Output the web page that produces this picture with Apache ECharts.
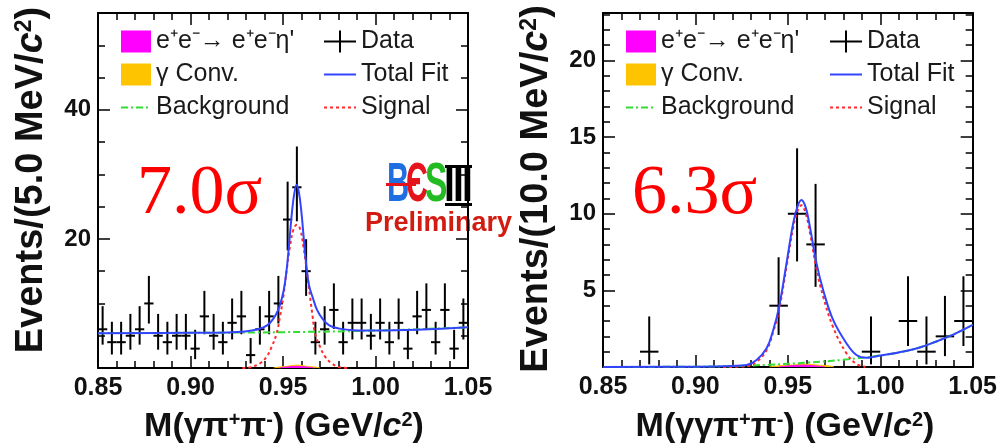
<!DOCTYPE html>
<html><head><meta charset="utf-8">
<script src="https://cdn.jsdelivr.net/npm/echarts@6/dist/echarts.min.js"></script>
<style>html,body{margin:0;padding:0;background:#fff}#c{width:1000px;height:448px}</style>
</head><body><div id="c"></div>
<script>
// ---------- data ----------
const xTickLabels = ['0.85','0.90','0.95','1.00','1.05'];
// Left panel: M(gamma pi+ pi-), 5 MeV bins
const binHalfL = 0.0025;
const xDataL = [0.8525,0.8575,0.8625,0.8675,0.8725,0.8775,0.8825,0.8875,0.8925,0.8975,
                0.9025,0.9075,0.9125,0.9175,0.9225,0.9275,0.9325,0.9375,0.9425,0.9475,
                0.9525,0.9575,0.9625,0.9675,0.9725,0.9775,0.9825,0.9875,0.9925,0.9975,
                1.0025,1.0075,1.0125,1.0175,1.0225,1.0275,1.0325,1.0375,1.0425,1.0475];
const yDataL = [6,4,4,5,6,10,5,4,5,5,3,8,5,4,7,8,2,6,8,10,23,28,15,4,6,9,4,7,7,5,7,4,7,3,8,9,4,9,3,7];
const errLoL = [3.62,2.09,2.09,2.84,3.62,6.89,2.84,2.09,2.84,2.84,1.37,5.23,2.84,2.09,4.42,5.23,0.71,3.62,5.23,6.89,
                18.22,22.73,11.17,2.09,3.62,6.06,2.09,4.42,4.42,2.84,4.42,2.09,4.42,1.37,5.23,6.06,2.09,6.06,1.37,4.42];
const errHiL = [9.58,7.16,7.16,8.38,9.58,14.27,8.38,7.16,8.38,8.38,5.92,11.95,8.38,7.16,10.77,11.95,4.64,9.58,11.95,14.27,
                28.87,34.32,19.96,7.16,9.58,13.11,7.16,10.77,10.77,8.38,10.77,7.16,10.77,5.92,11.95,13.11,7.16,13.11,5.92,10.77];
const bkgL = [[0.85,5.4],[0.90,5.45],[0.95,5.55],[1.00,5.8],[1.05,6.3]];
const totalL = [[0.85,5.4],[0.90,5.45],[0.92,5.5],[0.9294,5.65],[0.9364,6.0],[0.9414,6.6],[0.9449,7.7],[0.9474,9.0],
                [0.9494,10.8],[0.9509,12.9],[0.9524,16.4],[0.9537,20.5],[0.9549,24.3],[0.9562,27.2],[0.9574,28.4],
                [0.9586,27.2],[0.9599,24.3],[0.9611,20.5],[0.9624,16.4],[0.9640,12.9],[0.9662,10.8],[0.9684,9.0],
                [0.9712,7.7],[0.9750,6.6],[0.9805,6.1],[0.988,5.85],[1.00,5.8],[1.05,6.3]];
const signalL = [[0.928,0],[0.9322,0.1],[0.9376,0.73],[0.9412,1.76],[0.9439,3.3],[0.9466,5.4],[0.9484,8.0],[0.9502,11.1],
                 [0.952,15.2],[0.9538,18.9],[0.9557,21.5],[0.9575,22.2],[0.9593,21.5],[0.961,18.9],[0.9628,15.2],
                 [0.9646,11.1],[0.966,8.0],[0.9673,5.4],[0.970,3.3],[0.9727,1.76],[0.9763,0.73],[0.9808,0.1],[0.986,0]];
const convL = [[0.945,0],[0.950,0.2],[0.9575,0.45],[0.965,0.2],[0.970,0]];
const eeL = [[0.948,0],[0.9575,0.25],[0.967,0]];

// Right panel: M(gamma gamma pi+ pi-), 10 MeV bins
const binHalfR = 0.005;
const xDataR = [0.875,0.945,0.955,0.965,0.995,1.015,1.025,1.035,1.045];
const yDataR = [1,4,10,8,1,3,1,2,3];
const errLoR = [0.17,2.09,6.89,5.23,0.17,1.37,0.17,0.71,1.37];
const errHiR = [3.30,7.16,14.27,11.95,3.30,5.92,3.30,4.64,5.92];
const bkgR = [[0.85,0],[0.90,0.02],[0.92,0.06],[0.94,0.15],[0.96,0.28],[0.98,0.47],[1.00,0.75],[1.01,0.95],
              [1.02,1.22],[1.03,1.65],[1.04,2.15],[1.05,2.75]];
const totalR = [[0.85,0],[0.90,0.02],[0.92,0.07],[0.9277,0.13],[0.9331,0.46],[0.9385,1.22],[0.9421,2.42],[0.9453,3.94],
                [0.9493,6.78],[0.9529,9.39],[0.9553,10.5],[0.9574,10.9],[0.9597,10.4],[0.9619,9.17],[0.9655,6.78],
                [0.9691,5.03],[0.9745,3.07],[0.9817,1.55],[0.9871,0.78],[0.9925,0.6],[0.9961,0.66],[1.00,0.75],
                [1.01,0.95],[1.02,1.22],[1.03,1.65],[1.04,2.15],[1.05,2.75]];
const signalR = [[0.915,0],[0.9277,0.05],[0.9331,0.35],[0.9385,1.1],[0.9421,2.3],[0.9453,3.75],[0.9493,6.55],[0.9529,9.1],
                 [0.9553,10.2],[0.9574,10.55],[0.9597,10.0],[0.9619,8.8],[0.9655,6.4],[0.9691,4.6],[0.9745,2.6],
                 [0.9817,0.9],[0.9871,0.2],[0.992,0]];
const convR = [[0.94,0],[0.95,0.12],[0.96,0.18],[0.97,0.1],[0.975,0]];
const eeR = [[0.945,0],[0.958,0.12],[0.97,0]];

const yLabelsL = [20,40];
const yLabelsR = [5,10,15,20];

// ---------- style ----------
const F = "'Liberation Sans', Arial, Helvetica, sans-serif";
const N_EE = "e\u207Ae\u207B\u2192 e\u207Ae\u207B\u03B7'";
const N_CONV = "\u03B3 Conv.";
const C_EE = '#ff00ff', C_CONV = '#ffc400', C_BKG = '#33dd33', C_TOT = '#3344ff', C_SIG = '#ff2a2a';

function xAxes(grid) {
  const common = {
    gridIndex: grid, type: 'value', min: 0.85, max: 1.05, interval: 0.05,
    axisLine: {show: true, onZero: false, lineStyle: {color: '#000', width: 2}},
    axisTick: {show: true, inside: true, length: 12, lineStyle: {color: '#000', width: 1.5}},
    minorTick: {show: true, splitNumber: 5, length: 7, lineStyle: {color: '#000', width: 1.5}},
    splitLine: {show: false}
  };
  return [
    Object.assign({}, common, {position: 'bottom',
      axisLabel: {show: true, margin: 8, fontSize: 25, fontWeight: 'bold', fontFamily: F, color: '#111',
        formatter: v => { const s = v.toFixed(2); return xTickLabels.indexOf(s) >= 0 ? s : ''; }}}),
    Object.assign({}, common, {position: 'top', axisLabel: {show: false}})
  ];
}
function yAxes(grid, max, interval, minorSplit, labels) {
  const common = {
    gridIndex: grid, type: 'value', min: 0, max: max, interval: interval,
    axisLine: {show: true, onZero: false, lineStyle: {color: '#000', width: 2}},
    axisTick: {show: true, inside: true, length: 12, lineStyle: {color: '#000', width: 1.5}},
    minorTick: {show: true, splitNumber: minorSplit, length: 7, lineStyle: {color: '#000', width: 1.5}},
    splitLine: {show: false}
  };
  return [
    Object.assign({}, common, {position: 'left',
      axisLabel: {show: true, margin: 7, fontSize: 24, fontWeight: 'bold', fontFamily: F, color: '#111',
        formatter: v => labels.indexOf(Math.round(v * 1000) / 1000) >= 0 ? String(v) : ''}}),
    Object.assign({}, common, {position: 'right', axisLabel: {show: false}})
  ];
}

function dataSeries(xs, ys, lo, hi, half, xi, yi) {
  return {
    type: 'custom', name: 'Data', xAxisIndex: xi, yAxisIndex: yi, z: 2,
    itemStyle: {color: '#000'},
    data: xs.map((x, i) => [x, ys[i], lo[i], hi[i]]),
    renderItem: function (params, api) {
      const x = api.value(0), y = api.value(1);
      const c = api.coord([x, y]);
      const l = api.coord([x - half, y]);
      const r = api.coord([x + half, y]);
      const t = api.coord([x, api.value(3)]);
      const b = api.coord([x, api.value(2)]);
      return {type: 'group', children: [
        {type: 'line', shape: {x1: l[0], y1: c[1], x2: r[0], y2: c[1]}, style: {stroke: '#000', lineWidth: 2}},
        {type: 'line', shape: {x1: c[0], y1: t[1], x2: c[0], y2: b[1]}, style: {stroke: '#000', lineWidth: 2}}
      ]};
    }
  };
}
function curve(name, data, color, dash, xi, yi, z) {
  return {type: 'line', name: name, xAxisIndex: xi, yAxisIndex: yi, data: data, symbol: 'none', z: z,
    smooth: 0.4, itemStyle: {color: color},
    lineStyle: {color: color, width: 2, type: dash}};
}
function area(name, data, color, xi, yi) {
  return {type: 'line', name: name, xAxisIndex: xi, yAxisIndex: yi, data: data, symbol: 'none', z: 1,
    smooth: 0.4, smoothMonotone: 'x', itemStyle: {color: color},
    lineStyle: {color: color, width: 1}, areaStyle: {color: color, opacity: 1}};
}

const CROSS = 'path://M0,10H32V12H0Z M15,0H17V22H15Z';
const legendBase = {orient: 'vertical', padding: 0, itemGap: 8, itemWidth: 30, itemHeight: 22, selectedMode: false,
  textStyle: {fontSize: 25, fontFamily: F, color: '#1a1a1a'}};
function legends(x1, x2) {
  return [
    Object.assign({}, legendBase, {left: x1, top: 29, data: [
      {name: N_EE, icon: 'rect'}, {name: N_CONV, icon: 'rect'}, {name: 'Background', itemStyle: {opacity: 0}}]}),
    Object.assign({}, legendBase, {left: x2, top: 29, itemWidth: 32, data: [
      {name: 'Data', icon: CROSS, itemStyle: {color: '#000'}}, {name: 'Total Fit', itemStyle: {opacity: 0}},
      {name: 'Signal', itemStyle: {opacity: 0}}]})
  ];
}

function titleRich(size) {
  return {
    a: {fontSize: size, fontWeight: 'bold', fontFamily: F, fill: '#111'},
    b: {fontSize: size, fontWeight: 'bold', fontStyle: 'italic', fontFamily: F, fill: '#111'},
    s: {fontSize: Math.round(size * 0.6), fontWeight: 'bold', fontFamily: F, fill: '#111', verticalAlign: 'top'}
  };
}
function gtext(x, y, text, rot, size) {
  return {type: 'text', x: x, y: y, rotation: rot || 0, silent: true,
    style: {text: text, rich: titleRich(size), align: 'center', verticalAlign: 'middle'}};
}
function logoI(x) {
  return {type: 'text', x: x, y: 187, scaleX: 0.75, silent: true,
    style: {text: 'I', fontSize: 52, fontWeight: 'bold', fontFamily: F, fill: '#000', align: 'left', verticalAlign: 'middle'}};
}

const graphic = [
  gtext(32, 180, '{a|Events/(5.0 MeV/}{b|c}{s|2}{a|)}', Math.PI / 2, 38),
  gtext(537, 189, '{a|Events/(10.0 MeV/}{b|c}{s|2}{a|)}', Math.PI / 2, 38),
  gtext(284, 427, '{a|M(\u03B3\u03C0}{s|+}{a|\u03C0}{s|-}{a|) (GeV/}{b|c}{s|2}{a|)}', 0, 34),
  gtext(785, 427, '{a|M(\u03B3\u03B3\u03C0}{s|+}{a|\u03C0}{s|-}{a|) (GeV/}{b|c}{s|2}{a|)}', 0, 34),
  {type: 'text', x: 137, y: 195, silent: true, style: {text: '7.0\u03C3', fontSize: 70, fontFamily: "'Liberation Serif', 'Times New Roman', serif", fill: '#ff0000', align: 'left', verticalAlign: 'middle'}},
  {type: 'text', x: 632, y: 195, silent: true, style: {text: '6.3\u03C3', fontSize: 70, fontFamily: "'Liberation Serif', 'Times New Roman', serif", fill: '#ff0000', align: 'left', verticalAlign: 'middle'}},
  // BESIII logo
  {type: 'text', x: 387, y: 186, scaleX: 0.55, silent: true, style: {text: 'B', fontSize: 56, fontWeight: 'bold', fontFamily: F, fill: '#1f6fe0', align: 'left', verticalAlign: 'middle'}},
  {type: 'text', x: 406, y: 186, scaleX: 0.55, silent: true, style: {text: '\u0404', fontSize: 56, fontWeight: 'bold', fontFamily: F, fill: '#e5141c', align: 'left', verticalAlign: 'middle'}},
  {type: 'text', x: 425, y: 186, scaleX: 0.6, silent: true, style: {text: 'S', fontSize: 56, fontWeight: 'bold', fontFamily: F, fill: '#22bb22', align: 'left', verticalAlign: 'middle'}},
  logoI(444), logoI(453), logoI(462),
  {type: 'rect', silent: true, shape: {x: 445, y: 165, width: 27, height: 3}, style: {fill: '#000'}},
  {type: 'rect', silent: true, shape: {x: 445, y: 203, width: 27, height: 3}, style: {fill: '#000'}},
  {type: 'rect', silent: true, shape: {x: 386, y: 183, width: 30, height: 3}, style: {fill: '#e5141c'}},
  {type: 'text', x: 365, y: 224, silent: true, style: {text: 'Preliminary', fontSize: 27, fontWeight: 'bold', fontFamily: F, fill: '#d21c12', align: 'left', verticalAlign: 'middle'}}
];

const option = {
  animation: false,
  backgroundColor: '#fff',
  grid: [
    {left: 98, top: 13, width: 370, height: 355},
    {left: 603, top: 13, width: 371, height: 354}
  ],
  xAxis: [].concat(xAxes(0), xAxes(1)),
  yAxis: [].concat(yAxes(0, 55, 20, 4, yLabelsL), yAxes(1, 23.1, 5, 5, yLabelsR)),
  legend: [].concat(legends(120, 323), legends(625, 829)),
  graphic: graphic,
  series: [
    area(N_CONV, convL, C_CONV, 0, 0),
    area(N_EE, eeL, C_EE, 0, 0),
    dataSeries(xDataL, yDataL, errLoL, errHiL, binHalfL, 0, 0),
    curve('Background', bkgL, C_BKG, [7, 3, 2, 3], 0, 0, 3),
    curve('Signal', signalL, C_SIG, [3, 3], 0, 0, 4),
    curve('Total Fit', totalL, C_TOT, 'solid', 0, 0, 5),
    area(N_CONV, convR, C_CONV, 2, 2),
    area(N_EE, eeR, C_EE, 2, 2),
    dataSeries(xDataR, yDataR, errLoR, errHiR, binHalfR, 2, 2),
    curve('Background', bkgR, C_BKG, [7, 3, 2, 3], 2, 2, 3),
    curve('Signal', signalR, C_SIG, [3, 3], 2, 2, 4),
    curve('Total Fit', totalR, C_TOT, 'solid', 2, 2, 5)
  ]
};
const chart = echarts.init(document.getElementById('c'), null, {renderer: 'canvas'});
chart.setOption(option);
</script>
</body></html>
